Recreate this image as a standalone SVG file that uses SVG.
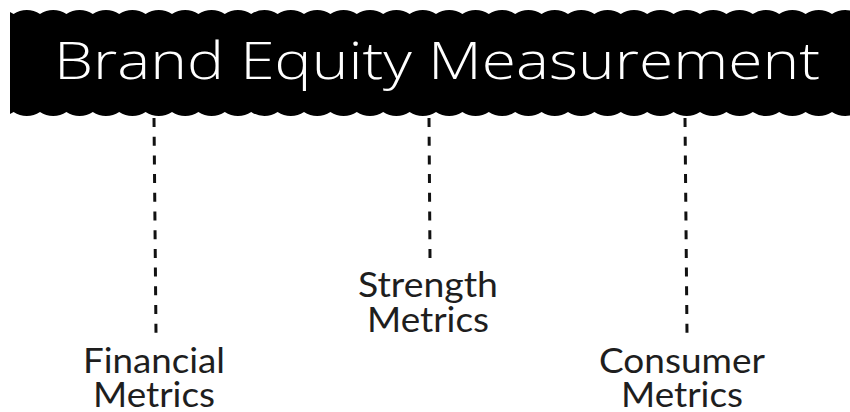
<svg xmlns="http://www.w3.org/2000/svg" width="850" height="412" viewBox="0 0 850 412">
  <defs>
    <clipPath id="bannerClip"><rect x="10" y="0" width="850" height="130"/></clipPath>
    <style>
      .title { font-family: "Open Sans", "Liberation Sans", sans-serif; font-weight: 300; font-size: 52px; fill: #ffffff; }
      .label { font-family: Lato, "Liberation Sans", sans-serif; font-size: 34px; fill: #1e1e1e; text-anchor: middle; }
      .dash { stroke: #111; stroke-width: 3; stroke-dasharray: 9 9.7; fill: none; }
    </style>
  </defs>
  <rect width="850" height="412" fill="#ffffff"/>
  <g id="banner">
    <path clip-path="url(#bannerClip)" fill="#000" d="M -12.8,14 A 23.8 23.8 0 0 1 13.6,14 A 23.8 23.8 0 0 1 40,14 A 23.8 23.8 0 0 1 66.4,14 A 23.8 23.8 0 0 1 92.8,14 A 23.8 23.8 0 0 1 119.2,14 A 23.8 23.8 0 0 1 145.6,14 A 23.8 23.8 0 0 1 172,14 A 23.8 23.8 0 0 1 198.4,14 A 23.8 23.8 0 0 1 224.8,14 A 23.8 23.8 0 0 1 251.2,14 A 23.8 23.8 0 0 1 277.6,14 A 23.8 23.8 0 0 1 304,14 A 23.8 23.8 0 0 1 330.4,14 A 23.8 23.8 0 0 1 356.8,14 A 23.8 23.8 0 0 1 383.2,14 A 23.8 23.8 0 0 1 409.6,14 A 23.8 23.8 0 0 1 436,14 A 23.8 23.8 0 0 1 462.4,14 A 23.8 23.8 0 0 1 488.8,14 A 23.8 23.8 0 0 1 515.2,14 A 23.8 23.8 0 0 1 541.6,14 A 23.8 23.8 0 0 1 568,14 A 23.8 23.8 0 0 1 594.4,14 A 23.8 23.8 0 0 1 620.8,14 A 23.8 23.8 0 0 1 647.2,14 A 23.8 23.8 0 0 1 673.6,14 A 23.8 23.8 0 0 1 700,14 A 23.8 23.8 0 0 1 726.4,14 A 23.8 23.8 0 0 1 752.8,14 A 23.8 23.8 0 0 1 779.2,14 A 23.8 23.8 0 0 1 805.6,14 A 23.8 23.8 0 0 1 832,14 A 23.8 23.8 0 0 1 858.4,14 L 858.4,112 A 23.8 23.8 0 0 1 832,112 A 23.8 23.8 0 0 1 805.6,112 A 23.8 23.8 0 0 1 779.2,112 A 23.8 23.8 0 0 1 752.8,112 A 23.8 23.8 0 0 1 726.4,112 A 23.8 23.8 0 0 1 700,112 A 23.8 23.8 0 0 1 673.6,112 A 23.8 23.8 0 0 1 647.2,112 A 23.8 23.8 0 0 1 620.8,112 A 23.8 23.8 0 0 1 594.4,112 A 23.8 23.8 0 0 1 568,112 A 23.8 23.8 0 0 1 541.6,112 A 23.8 23.8 0 0 1 515.2,112 A 23.8 23.8 0 0 1 488.8,112 A 23.8 23.8 0 0 1 462.4,112 A 23.8 23.8 0 0 1 436,112 A 23.8 23.8 0 0 1 409.6,112 A 23.8 23.8 0 0 1 383.2,112 A 23.8 23.8 0 0 1 356.8,112 A 23.8 23.8 0 0 1 330.4,112 A 23.8 23.8 0 0 1 304,112 A 23.8 23.8 0 0 1 277.6,112 A 23.8 23.8 0 0 1 251.2,112 A 23.8 23.8 0 0 1 224.8,112 A 23.8 23.8 0 0 1 198.4,112 A 23.8 23.8 0 0 1 172,112 A 23.8 23.8 0 0 1 145.6,112 A 23.8 23.8 0 0 1 119.2,112 A 23.8 23.8 0 0 1 92.8,112 A 23.8 23.8 0 0 1 66.4,112 A 23.8 23.8 0 0 1 40,112 A 23.8 23.8 0 0 1 13.6,112 A 23.8 23.8 0 0 1 -12.8,112 Z"/>
    <text class="title" x="54" y="79" textLength="766" lengthAdjust="spacingAndGlyphs">Brand Equity Measurement</text>
  </g>
  <g id="connectors">
    <line class="dash" x1="154" y1="118" x2="156" y2="334"/>
    <line class="dash" x1="429" y1="118" x2="430" y2="258"/>
    <line class="dash" x1="685" y1="118" x2="687" y2="334"/>
  </g>
  <g id="financial">
    <text class="label"><tspan x="154" y="373" textLength="142" lengthAdjust="spacingAndGlyphs">Financial</tspan><tspan x="154" y="407" textLength="122" lengthAdjust="spacingAndGlyphs">Metrics</tspan></text>
  </g>
  <g id="strength">
    <text class="label"><tspan x="428" y="297" textLength="140" lengthAdjust="spacingAndGlyphs">Strength</tspan><tspan x="428" y="332" textLength="122" lengthAdjust="spacingAndGlyphs">Metrics</tspan></text>
  </g>
  <g id="consumer">
    <text class="label"><tspan x="682" y="373" textLength="166" lengthAdjust="spacingAndGlyphs">Consumer</tspan><tspan x="682" y="407" textLength="122" lengthAdjust="spacingAndGlyphs">Metrics</tspan></text>
  </g>
</svg>
